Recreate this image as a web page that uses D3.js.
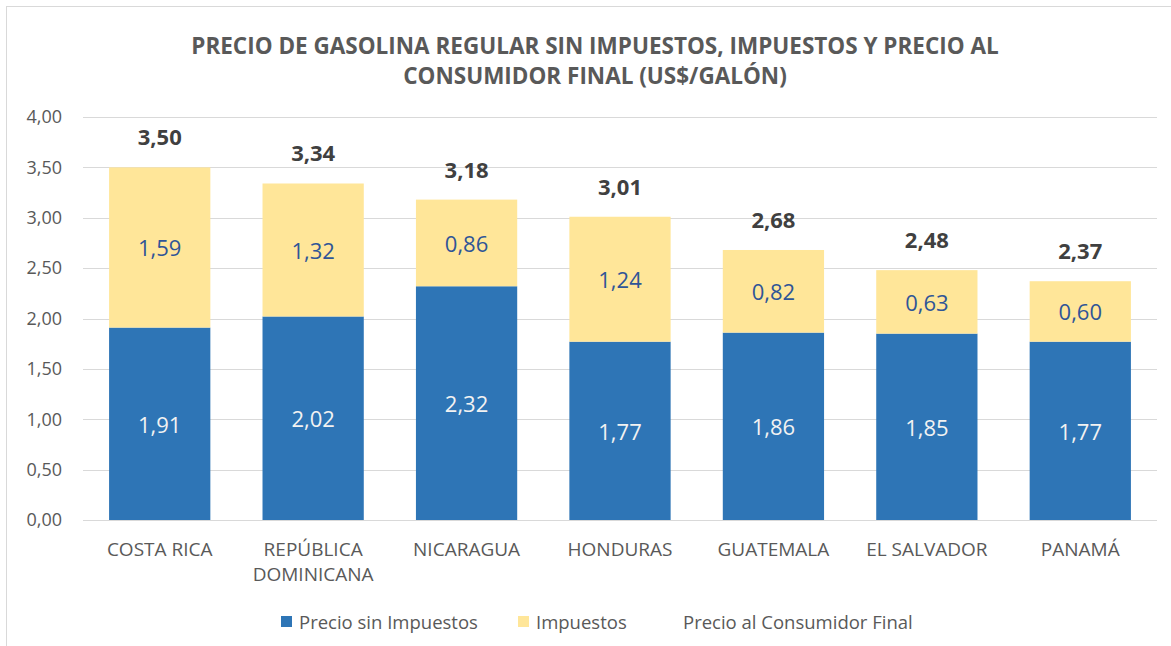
<!DOCTYPE html>
<html>
<head>
<meta charset="utf-8">
<script src="https://cdn.jsdelivr.net/npm/d3@7"></script>
<style>
  body { margin: 0; background: #fff; }
  svg { font-family: "Open Sans", Lato, sans-serif; }
</style>
</head>
<body>
<div id="chart"></div>
<script>
// values
var countries = ["COSTA RICA", "REPÚBLICA DOMINICANA", "NICARAGUA", "HONDURAS", "GUATEMALA", "EL SALVADOR", "PANAMÁ"]
var sinImpuestos = [1.91, 2.02, 2.32, 1.77, 1.86, 1.85, 1.77]
var impuestos = [1.59, 1.32, 0.86, 1.24, 0.82, 0.63, 0.60]
var precioFinal = [3.50, 3.34, 3.18, 3.01, 2.68, 2.48, 2.37]
var yTicks = [0, 0.5, 1, 1.5, 2, 2.5, 3, 3.5, 4]
var seriesNames = ["Precio sin Impuestos", "Impuestos", "Precio al Consumidor Final"]

var W = 1171, H = 646
var margin = {top: 117, right: 14, bottom: 126, left: 83},
  width = W - margin.left - margin.right,
  height = H - margin.top - margin.bottom;

var fmt = function(v) { return d3.format(".2f")(v).replace(".", ","); }

var svg = d3.select("#chart").append("svg")
  .attr("width", W).attr("height", H);

// outer chart border (cropped on right/bottom)
svg.append("rect")
  .attr("x", 6.5).attr("y", 6.5)
  .attr("width", W + 20).attr("height", H + 20)
  .attr("fill", "none").attr("stroke", "#d9d9d9");

// title
var title = svg.append("text")
  .attr("text-anchor", "middle")
  .attr("font-weight", "bold")
  .attr("font-size", "22.5px")
  .attr("fill", "#595959");
title.append("tspan").attr("x", 595).attr("y", 54)
  .text("PRECIO DE GASOLINA REGULAR SIN IMPUESTOS, IMPUESTOS Y PRECIO AL");
title.append("tspan").attr("x", 595).attr("y", 84)
  .text("CONSUMIDOR FINAL (US$/GALÓN)");

var g = svg.append("g")
  .attr("transform", "translate(" + margin.left + "," + margin.top + ")");

var x = d3.scaleBand()
  .domain(countries)
  .range([0, width])
  .paddingInner(0.34)
  .paddingOuter(0.17);

var y = d3.scaleLinear()
  .domain([0, 4])
  .range([height, 0]);

// gridlines
g.append("g")
  .selectAll("line")
  .data(yTicks)
  .enter().append("line")
    .attr("x1", 0).attr("x2", width)
    .attr("y1", function(d) { return Math.round(y(d)) + 0.5; })
    .attr("y2", function(d) { return Math.round(y(d)) + 0.5; })
    .attr("stroke", "#d9d9d9").attr("stroke-width", 1);

// y axis
var yAxis = g.append("g")
  .call(d3.axisLeft(y).tickValues(yTicks).tickFormat(fmt).tickSize(0).tickPadding(21));
yAxis.select(".domain").remove();
yAxis.selectAll("text")
  .attr("font-family", "'Open Sans', Lato, sans-serif")
  .attr("font-size", "18px")
  .attr("fill", "#595959");

// x axis
var xAxis = g.append("g")
  .attr("transform", "translate(0," + height + ")")
  .call(d3.axisBottom(x).tickSize(0).tickFormat(""));
xAxis.select(".domain").remove();

var xl = g.append("g").selectAll("text")
  .data(countries)
  .enter().append("text")
    .attr("text-anchor", "middle")
    .attr("font-size", "19px")
    .attr("fill", "#595959");
xl.each(function(d) {
  var t = d3.select(this);
  var parts = d == "REPÚBLICA DOMINICANA" ? ["REPÚBLICA", "DOMINICANA"] : [d];
  parts.forEach(function(p, i) {
    t.append("tspan")
      .attr("x", x(d) + x.bandwidth() / 2)
      .attr("y", height + 36 + i * 25)
      .text(p);
  });
});

var rows = countries.map(function(c, i) {
  return {name: c, base: sinImpuestos[i], tax: impuestos[i], total: precioFinal[i]};
});

// base bars
g.selectAll("rect.base")
  .data(rows)
  .enter().append("rect")
    .attr("class", "base")
    .attr("x", function(d) { return x(d.name); })
    .attr("y", function(d) { return y(d.base); })
    .attr("width", x.bandwidth())
    .attr("height", function(d) { return height - y(d.base); })
    .attr("fill", "#2e75b6");

// tax bars
g.selectAll("rect.tax")
  .data(rows)
  .enter().append("rect")
    .attr("class", "tax")
    .attr("x", function(d) { return x(d.name); })
    .attr("y", function(d) { return y(d.base + d.tax); })
    .attr("width", x.bandwidth())
    .attr("height", function(d) { return y(d.base) - y(d.base + d.tax); })
    .attr("fill", "#ffe699");

// labels inside
g.selectAll("text.lbase")
  .data(rows)
  .enter().append("text")
    .attr("class", "lbase")
    .attr("text-anchor", "middle")
    .attr("dominant-baseline", "central")
    .attr("font-size", "22px")
    .attr("fill", "#f2f2f2")
    .attr("x", function(d) { return x(d.name) + x.bandwidth() / 2; })
    .attr("y", function(d) { return (y(0) + y(d.base)) / 2; })
    .text(function(d) { return fmt(d.base); });

g.selectAll("text.ltax")
  .data(rows)
  .enter().append("text")
    .attr("class", "ltax")
    .attr("text-anchor", "middle")
    .attr("dominant-baseline", "central")
    .attr("font-size", "22px")
    .attr("fill", "#2f5597")
    .attr("x", function(d) { return x(d.name) + x.bandwidth() / 2; })
    .attr("y", function(d) { return (y(d.base) + y(d.base + d.tax)) / 2; })
    .text(function(d) { return fmt(d.tax); });

// totals on top
g.selectAll("text.ltot")
  .data(rows)
  .enter().append("text")
    .attr("class", "ltot")
    .attr("text-anchor", "middle")
    .attr("dominant-baseline", "central")
    .attr("font-size", "22px")
    .attr("font-weight", "bold")
    .attr("fill", "#404040")
    .attr("x", function(d) { return x(d.name) + x.bandwidth() / 2; })
    .attr("y", function(d) { return y(d.total) - 31; })
    .text(function(d) { return fmt(d.total); });

// legend
var legendX = [281, 518, 683];
var legendCol = ["#2e75b6", "#ffe699", null];
var leg = svg.append("g");
seriesNames.forEach(function(s, i) {
  if (legendCol[i]) {
    leg.append("rect")
      .attr("x", legendX[i]).attr("y", 616)
      .attr("width", 11).attr("height", 11)
      .attr("fill", legendCol[i]);
  }
  leg.append("text")
    .attr("x", legendCol[i] ? legendX[i] + 18 : legendX[i])
    .attr("y", 621)
    .attr("dominant-baseline", "central")
    .attr("font-size", "18.5px")
    .attr("fill", "#595959")
    .text(s);
});
</script>
</body>
</html>
